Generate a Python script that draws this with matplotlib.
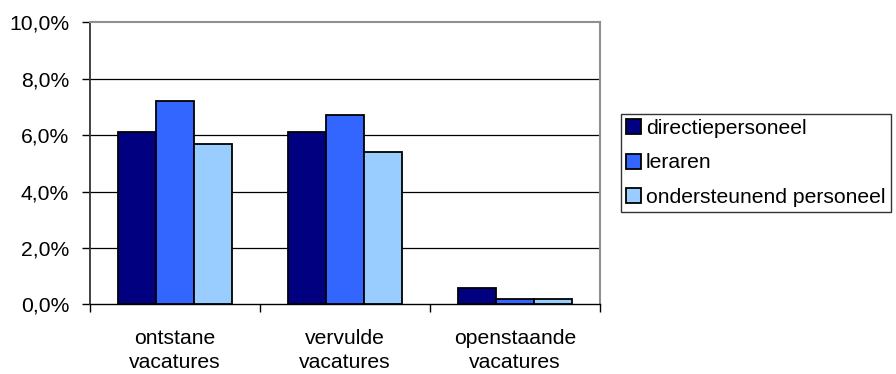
import matplotlib.pyplot as plt
import numpy as np

plt.rcParams['font.family'] = ['Liberation Sans', 'DejaVu Sans']

categories = ['ontstane\nvacatures', 'vervulde\nvacatures', 'openstaande\nvacatures']
series_names = ['directiepersoneel', 'leraren', 'ondersteunend personeel']
directie = [6.1, 6.1, 0.6]
leraren = [7.2, 6.7, 0.2]
ondersteunend = [5.7, 5.4, 0.2]
colors = ['#000080', '#3366FF', '#99CCFF']

fs = 15.2

fig = plt.figure(figsize=(8.96, 3.74), dpi=100)
ax = fig.add_axes([0.1004, 0.186, 0.5692, 0.754])

x = np.arange(len(categories))
w = 0.224
for i, (vals, name) in enumerate(zip([directie, leraren, ondersteunend], series_names)):
    ax.bar(x + (i - 1) * w, vals, w, color=colors[i], edgecolor='black',
           linewidth=1.3, label=name, zorder=3)

ax.set_xlim(-0.5, 2.5)
ax.set_ylim(0, 10)
ax.set_yticks(np.arange(0, 10.1, 2))
ax.set_yticklabels([f'{v:.1f}%'.replace('.', ',') for v in np.arange(0, 10.1, 2)])
for v in [2, 4, 6, 8]:
    ax.axhline(v, color='black', lw=0.9, zorder=1)

# category separators as ticks
ax.set_xticks([-0.5, 0.5, 1.5, 2.5], minor=False)
ax.set_xticklabels([])
ax.set_xticks(x, minor=True)
ax.set_xticklabels(categories, minor=True, fontsize=fs, linespacing=1.33)
ax.tick_params(axis='x', which='major', length=6, width=1, direction='out')
ax.tick_params(axis='x', which='minor', length=0, pad=18)
ax.tick_params(axis='y', length=6, width=1, direction='out', pad=9, labelsize=fs)

ax.spines['top'].set_color('#909090')
ax.spines['right'].set_color('#909090')
ax.spines['top'].set_linewidth(1.5)
ax.spines['right'].set_linewidth(1.5)
ax.spines['left'].set_color('#333333')
ax.spines['left'].set_linewidth(1.3)
ax.spines['bottom'].set_linewidth(1.0)

leg = fig.legend(loc='center left', bbox_to_anchor=(621 / 896, 1 - 163 / 374),
                 fontsize=fs, frameon=True, fancybox=False, edgecolor='black',
                 handlelength=0.7, handleheight=0.7, handletextpad=0.24,
                 labelspacing=0.74, borderpad=0.25, borderaxespad=0)
leg.get_frame().set_linewidth(1.0)
for h in leg.legend_handles:
    h.set_linewidth(1.3)

fig.savefig('out.png', dpi=100)
